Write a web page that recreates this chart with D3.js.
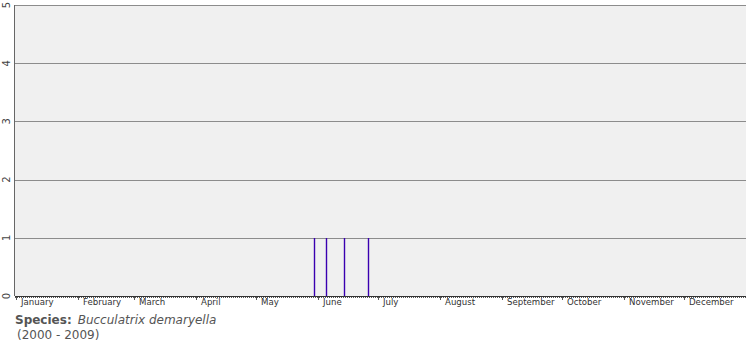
<!DOCTYPE html>
<html>
<head>
<meta charset="utf-8">
<script src="https://cdn.jsdelivr.net/npm/d3@7"></script>
<style>
  body { margin: 0; background: #fff; }
  #chart { width: 755px; height: 350px; }
</style>
</head>
<body>
<div id="chart"></div>
<script>
//Datos
const months = ['January','February','March','April','May','June','July','August','September','October','November','December'];
const monthDays = [31,28,31,30,31,30,31,31,30,31,30,31];
// dia del año (0 = 1 de enero) de cada registro
const recordDays = [149, 155, 164, 176];
const recordCounts = [1, 1, 1, 1];
const yTicks = [0, 1, 2, 3, 4, 5];
const species = 'Bucculatrix demaryella';
const period = '(2000 - 2009)';

let margin = {top: 5, right: 9, bottom: 54, left: 15},
    width = 755 - margin.left - margin.right,
    height = 350 - margin.top - margin.bottom;

let svg = d3.select('#chart')
  .append('svg')
    .attr('width', 755)
    .attr('height', 350)
  .append('g')
    .attr('transform', 'translate(' + margin.left + ',' + margin.top + ')');

let x = d3.scaleLinear().domain([0, 365.5]).range([0, width]);
let y = d3.scaleLinear().domain([0, 5]).range([height, 0]);

svg.append('rect')
  .attr('width', width).attr('height', height)
  .attr('fill', '#f0f0f0');

//Rejilla
svg.selectAll('.grid')
  .data(yTicks.slice(1))
  .enter().append('line')
    .attr('x1', 0).attr('x2', width)
    .attr('y1', d => Math.round(y(d)) + 0.5)
    .attr('y2', d => Math.round(y(d)) + 0.5)
    .attr('stroke', '#8c8c8c').attr('stroke-width', 1);

//Barras
svg.selectAll('.bar')
  .data(recordDays.map((d, i) => ({day: d, n: recordCounts[i]})))
  .enter().append('line')
    .attr('x1', d => Math.round(x(d.day + 0.5)) + 0.5)
    .attr('x2', d => Math.round(x(d.day + 0.5)) + 0.5)
    .attr('y1', d => Math.round(y(d.n)))
    .attr('y2', height)
    .attr('stroke', '#3a00b0').attr('stroke-width', 1.4);

//Eje Y
svg.append('line')
  .attr('x1', -0.5).attr('x2', -0.5).attr('y1', 0).attr('y2', height)
  .attr('stroke', '#666');

svg.selectAll('.ylab')
  .data(yTicks)
  .enter().append('text')
    .attr('transform', d => 'translate(-5,' + y(d) + ') rotate(-90)')
    .attr('text-anchor', 'middle')
    .attr('font-family', 'DejaVu Sans, sans-serif')
    .attr('font-size', 10)
    .attr('fill', '#444')
    .text(d => d);

//Eje X
svg.append('line')
  .attr('x1', 0).attr('x2', width).attr('y1', height + 0.5).attr('y2', height + 0.5)
  .attr('stroke', '#333');

let monthStart = [];
months.reduce((acc, m, i) => { monthStart.push(acc); return acc + monthDays[i]; }, 0);

svg.selectAll('.dtick')
  .data(d3.range(0, 366))
  .enter().append('line')
    .attr('x1', d => Math.round(x(d)) + 0.5)
    .attr('x2', d => Math.round(x(d)) + 0.5)
    .attr('y1', height + 1).attr('y2', height + 2)
    .attr('stroke', '#555');

svg.selectAll('.mtick')
  .data(monthStart)
  .enter().append('line')
    .attr('x1', d => Math.round(x(d + 0.5)) + 0.5)
    .attr('x2', d => Math.round(x(d + 0.5)) + 0.5)
    .attr('y1', height + 1).attr('y2', height + 4)
    .attr('stroke', '#555');

svg.selectAll('.mlab')
  .data(months)
  .enter().append('text')
    .attr('x', (d, i) => x(monthStart[i] + 0.5) + 5)
    .attr('y', height + 9)
    .attr('font-family', 'DejaVu Sans, sans-serif')
    .attr('font-size', 8.6)
    .attr('fill', '#333')
    .text(d => d);

//Especie
let cap = svg.append('text')
  .attr('x', 0).attr('y', height + 28)
  .attr('font-family', 'DejaVu Sans, Verdana, sans-serif')
  .attr('font-size', 12)
  .attr('fill', '#555');
cap.append('tspan').attr('font-weight', 'bold').text('Species:');
cap.append('tspan').attr('font-style', 'italic').attr('dx', 6).text(species);

svg.append('text')
  .attr('x', 2).attr('y', height + 43)
  .attr('font-family', 'DejaVu Sans, Verdana, sans-serif')
  .attr('font-size', 12)
  .attr('fill', '#555')
  .text(period);
</script>
</body>
</html>
